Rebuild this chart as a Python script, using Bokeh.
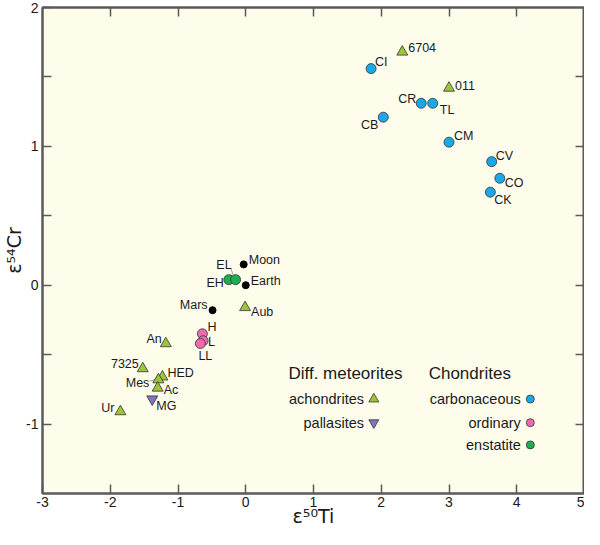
from bokeh.plotting import figure
from bokeh.models import LinearAxis, FixedTicker, ColumnDataSource, Range1d
from bokeh.embed import file_html
from bokeh.resources import INLINE
from bokeh.core.properties import value

FONT = "Liberation Sans"
TITLE_FONT = "DejaVu Sans"

# ---------------- data ----------------
carb_names = ["CI", "CB", "CR", "TL", "CM", "CV", "CO", "CK"]
carb_ti = [1.85, 2.03, 2.59, 2.76, 3.00, 3.63, 3.75, 3.61]
carb_cr = [1.56, 1.21, 1.31, 1.31, 1.03, 0.89, 0.77, 0.67]

ord_names = ["H", "L", "LL"]
ord_ti = [-0.64, -0.63, -0.67]
ord_cr = [-0.35, -0.40, -0.42]

ens_names = ["EH", "EL"]
ens_ti = [-0.25, -0.15]
ens_cr = [0.04, 0.04]

planet_names = ["Moon", "Earth", "Mars"]
planet_ti = [-0.03, 0.00, -0.49]
planet_cr = [0.15, 0.00, -0.18]

achon_names = ["6704", "011", "Aub", "An", "7325", "HED", "Mes", "Ac", "Ur"]
achon_ti = [2.31, 3.00, -0.01, -1.18, -1.52, -1.23, -1.29, -1.30, -1.85]
achon_cr = [1.68, 1.42, -0.16, -0.42, -0.60, -0.66, -0.68, -0.74, -0.91]

pall_names = ["MG"]
pall_ti = [-1.38]
pall_cr = [-0.82]

x_ticks = [-3, -2, -1, 0, 1, 2, 3, 4, 5]
x_tick_labels = ["-3", "-2", "-1", "0", "1", "2", "3", "4", "5"]
y_ticks = [-1, 0, 1, 2]
y_tick_labels = ["-1", "0", "1", "2"]
y_half_ticks = [-0.5, 0.5, 1.5]

x_title = "ε⁵⁰Ti"
y_title = "ε⁵⁴Cr"

legend_diff_title = "Diff. meteorites"
legend_chon_title = "Chondrites"
legend_diff_items = ["achondrites", "pallasites"]
legend_chon_items = ["carbonaceous", "ordinary", "enstatite"]

# ---------------- styles ----------------
BG = "#FEFDEC"
C_BLUE = "#1AA8E8"
C_PINK = "#EE6BAE"
C_GREEN = "#1DAF4E"
C_TRI = "#9DC43B"
C_PURP = "#7C77BC"
AX = "#5a5a5a"
TXT = "#1a1a1a"

# label placement (align, dx px, dy px; dy positive = down)
lab_style = {
    "CI": ("left", 4, -7), "CB": ("right", -5, 8), "CR": ("right", -5, -4),
    "TL": ("left", 7, 7), "CM": ("left", 5, -6), "CV": ("left", 4, -6),
    "CO": ("left", 5, 5), "CK": ("left", 4, 8),
    "H": ("left", 5, -7), "L": ("left", 5, 1), "LL": ("center", 5, 12),
    "EH": ("right", -5, 3), "EL": ("right", -4, -15),
    "Moon": ("left", 5, -4), "Earth": ("left", 5, -4), "Mars": ("right", -5, -5),
    "6704": ("left", 6, -4), "011": ("left", 6, -3), "Aub": ("left", 6, 5),
    "An": ("right", -4, -5), "7325": ("right", -4, -5), "HED": ("left", 5, -4),
    "Mes": ("right", -9, 3), "Ac": ("left", 6, 2), "Ur": ("right", -6, -4),
    "MG": ("left", 4, 7),
}

p = figure(width=584, height=529, x_range=Range1d(-3, 5), y_range=Range1d(-1.5, 2),
           output_backend="svg", toolbar_location=None,
           background_fill_color=BG, border_fill_color="white",
           min_border_top=7, min_border_right=0, min_border_left=0, min_border_bottom=0,
           x_axis_location=None, y_axis_location=None)
p.grid.visible = False
p.outline_line_color = AX
p.outline_line_width = 2


def style_axis(ax):
    ax.axis_line_color = AX
    ax.axis_line_width = 2
    ax.major_tick_in = 9
    ax.major_tick_out = 0
    ax.major_tick_line_color = AX
    ax.major_tick_line_width = 1.5
    ax.minor_tick_in = 9
    ax.minor_tick_out = 0
    ax.minor_tick_line_color = AX
    ax.minor_tick_line_width = 1.5
    ax.major_label_text_font = FONT
    ax.major_label_text_color = TXT
    ax.major_label_text_font_size = "14px"
    ax.major_label_standoff = 3
    ax.axis_label_text_font = TITLE_FONT
    ax.axis_label_text_font_size = "19px"
    ax.axis_label_text_font_style = "normal"
    ax.axis_label_text_color = TXT


xb = LinearAxis(ticker=FixedTicker(ticks=x_ticks, minor_ticks=[]),
                major_label_overrides={t: l for t, l in zip(x_ticks, x_tick_labels)})
style_axis(xb)
xb.axis_label = x_title
xb.axis_label_standoff = -5
p.add_layout(xb, "below")

yl = LinearAxis(ticker=FixedTicker(ticks=y_ticks, minor_ticks=y_half_ticks),
                major_label_overrides={t: l for t, l in zip(y_ticks, y_tick_labels)})
style_axis(yl)
yl.major_label_standoff = 4
yl.axis_label = y_title
yl.axis_label_standoff = -2
p.add_layout(yl, "left")

# mirrored ticks on top and right (minor ticks only -> no labels)
xt = LinearAxis(ticker=FixedTicker(ticks=[], minor_ticks=x_ticks[1:-1]))
style_axis(xt)
xt.major_label_standoff = 0
xt.axis_label_standoff = 0
p.add_layout(xt, "above")

yr = LinearAxis(ticker=FixedTicker(ticks=[], minor_ticks=y_ticks[:-1] + y_half_ticks))
style_axis(yr)
yr.major_label_standoff = 0
yr.axis_label_standoff = 0
p.add_layout(yr, "right")

# leader lines (offsets from points)
el_i = ens_names.index("EL")
mes_i = achon_names.index("Mes")
p.segment(x0=[ens_ti[el_i] - 0.035, achon_ti[mes_i] - 0.04],
          y0=[ens_cr[el_i] + 0.035, achon_cr[mes_i]],
          x1=[ens_ti[el_i] - 0.07, achon_ti[mes_i] - 0.13],
          y1=[ens_cr[el_i] + 0.08, achon_cr[mes_i] - 0.01],
          line_color="#888888", line_width=0.8)

MARK_LINE = "#333333"
p.scatter(carb_ti, carb_cr, marker="circle", size=10, fill_color=C_BLUE,
          line_color=MARK_LINE, line_width=0.8)
p.scatter(ord_ti, ord_cr, marker="circle", size=10, fill_color=C_PINK,
          line_color=MARK_LINE, line_width=0.8)
p.scatter(ens_ti, ens_cr, marker="circle", size=10, fill_color=C_GREEN,
          line_color=MARK_LINE, line_width=0.8)
p.scatter(planet_ti, planet_cr, marker="circle", size=7, fill_color="black",
          line_color="black")
p.scatter(achon_ti, achon_cr, marker="triangle", size=11, fill_color=C_TRI,
          line_color=MARK_LINE, line_width=0.8)
p.scatter(pall_ti, pall_cr, marker="inverted_triangle", size=11, fill_color=C_PURP,
          line_color=MARK_LINE, line_width=0.8)

names = carb_names + ord_names + ens_names + planet_names + achon_names + pall_names
xs = carb_ti + ord_ti + ens_ti + planet_ti + achon_ti + pall_ti
ys = carb_cr + ord_cr + ens_cr + planet_cr + achon_cr + pall_cr
lsrc = ColumnDataSource(dict(
    x=xs, y=ys, text=names,
    align=[lab_style[n][0] for n in names],
    dx=[lab_style[n][1] for n in names],
    dy=[lab_style[n][2] for n in names],
))
p.text(x="x", y="y", text="text", source=lsrc, text_align="align",
       text_baseline="middle", x_offset="dx", y_offset="dy",
       text_font=value(FONT), text_font_size="12.5px", text_color=TXT)

# ---------------- legend (layout positions in data units) ----------------
col1_title_x, col2_title_x = 0.63, 2.70
title_y = -0.635
row_y = [-0.82, -0.99, -1.15]
col1_text_x, col1_mark_x = 1.745, 1.89
col2_text_x, col2_mark_x = 4.06, 4.20

p.text(x=[col1_title_x, col2_title_x], y=[title_y, title_y],
       text=[legend_diff_title, legend_chon_title], text_align="left",
       text_baseline="middle", text_font=value(FONT), text_font_size="17px",
       text_color=TXT)
p.text(x=[col1_text_x] * len(legend_diff_items), y=row_y[:len(legend_diff_items)],
       text=legend_diff_items, text_align="right", text_baseline="middle",
       text_font=value(FONT), text_font_size="14.5px", text_color=TXT)
p.text(x=[col2_text_x] * len(legend_chon_items), y=row_y[:len(legend_chon_items)],
       text=legend_chon_items, text_align="right", text_baseline="middle",
       text_font=value(FONT), text_font_size="14.5px", text_color=TXT)
p.scatter([col1_mark_x], [row_y[0]], marker="triangle", size=10, fill_color=C_TRI,
          line_color=MARK_LINE, line_width=0.8)
p.scatter([col1_mark_x], [row_y[1]], marker="inverted_triangle", size=10,
          fill_color=C_PURP, line_color=MARK_LINE, line_width=0.8)
p.scatter([col2_mark_x] * 3, row_y, marker="circle", size=8,
          fill_color=[C_BLUE, C_PINK, C_GREEN], line_color=MARK_LINE, line_width=0.8)

open("out.html", "w").write(file_html(p, INLINE))
